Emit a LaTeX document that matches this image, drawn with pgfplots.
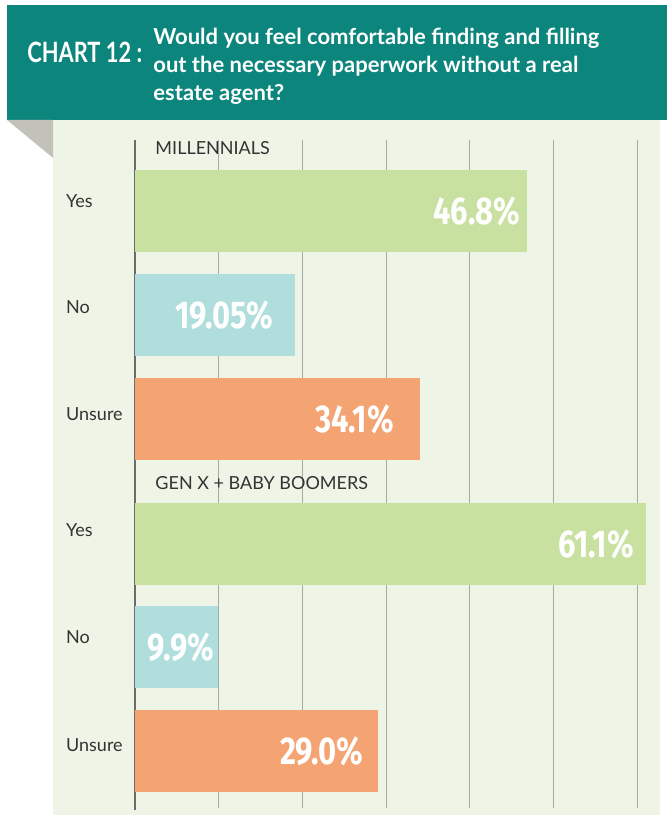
\documentclass[border=0pt]{standalone}
\usepackage{fontspec}
\setmainfont{Lato}
\newfontfamily\numfont{Fira Sans}
\usepackage{graphicx}
\usepackage{pgfplots}
\pgfplotsset{compat=1.18}

\definecolor{hdrteal}{HTML}{0C857D}
\definecolor{panel}{HTML}{EFF5E6}
\definecolor{fold}{HTML}{C2C2BA}
\definecolor{barGreen}{HTML}{C8E0A0}
\definecolor{barBlue}{HTML}{B0DEDC}
\definecolor{barOrange}{HTML}{F4A472}
\definecolor{gridgray}{HTML}{A8A8A8}
\definecolor{labgray}{HTML}{333333}

% 1 px of the reference = 0.75pt; x in percent: px = 135 + 8.367*x
\begin{document}
\begin{tikzpicture}
\begin{axis}[
    set layers=standard,
    scale only axis,
    width=500.25pt, height=611.25pt,
    xmin=-16.135, xmax=63.58,
    ymin=0, ymax=815, y dir=reverse,
    clip=false,
    axis line style={draw=none},
    major tick length=0pt,
    xtick=\empty,
    ytick={201,307,414,530,637,745},
    yticklabels={Yes,No,Unsure,Yes,No,Unsure},
    yticklabel style={anchor=west, xshift=46pt, text=labgray,
        font=\fontsize{13.5}{15}\selectfont},
    xbar, bar width=82, bar shift=0pt,
    point meta=explicit symbolic,
    nodes near coords={\scalebox{0.8}[1]{\pgfplotspointmeta\%}},
    every node near coord/.append style={anchor=east,
        text=white, font=\numfont\bfseries\fontsize{29}{30}\selectfont},
]
% background, header and fold
\begin{pgfonlayer}{axis background}
\fill[white] (axis cs:-16.135,0) rectangle (axis cs:63.58,815);
\fill[panel] (axis cs:-9.80,120) rectangle (axis cs:62.75,815);
\fill[hdrteal] (axis cs:-15.30,5) rectangle (axis cs:63.58,120);
\fill[fold] (axis cs:-15.30,120) -- (axis cs:-9.80,120) -- (axis cs:-9.80,158) -- cycle;
\end{pgfonlayer}
% grid lines
\begin{pgfonlayer}{axis grid}
\pgfplotsinvokeforeach{10,20,30,40,50,60}{
    \draw[gridgray, line width=0.9pt] (axis cs:#1,140) -- (axis cs:#1,808);
}
\draw[gray!85!black, line width=1.2pt] (axis cs:0,140) -- (axis cs:0,810);
\end{pgfonlayer}
\node[anchor=west, text=white, inner sep=0pt] at (axis cs:-12.91,52)
    {\scalebox{0.78}[1]{\bfseries\fontsize{21}{24}\selectfont CHART 12 :}};
\node[anchor=north west, text=white, inner sep=0pt, align=left,
      font=\bfseries\fontsize{16.5}{21}\selectfont] at (axis cs:2.15,28)
    {Would you feel comfortable finding and filling\\
     out the necessary paperwork without a real\\
     estate agent?};
% group labels
\node[anchor=west, text=labgray, inner sep=0pt] at (axis cs:2.4,148)
    {\fontsize{13.5}{15}\selectfont MILLENNIALS};
\node[anchor=west, text=labgray, inner sep=0pt] at (axis cs:2.4,483)
    {\fontsize{13.5}{15}\selectfont GEN X + BABY BOOMERS};

% Millennials
\addplot[fill=barGreen, draw=none, every node near coord/.append style={xshift=-1.5pt}]
    coordinates {(46.8,211) [46.8]};
\addplot[fill=barBlue, draw=none, every node near coord/.append style={xshift=-12.75pt}]
    coordinates {(19.05,315) [19.05]};
\addplot[fill=barOrange, draw=none, every node near coord/.append style={xshift=-16.5pt}]
    coordinates {(34.1,419) [34.1]};
% Gen X + Baby Boomers
\addplot[fill=barGreen, draw=none, every node near coord/.append style={xshift=-6pt}]
    coordinates {(61.1,544) [61.1]};
\addplot[fill=barBlue, draw=none, every node near coord/.append style={xshift=0.75pt}]
    coordinates {(9.9,647.5) [9.9]};
\addplot[fill=barOrange, draw=none, every node near coord/.append style={xshift=-7.5pt}]
    coordinates {(29.0,751) [29.0]};
\end{axis}
\end{tikzpicture}
\end{document}
